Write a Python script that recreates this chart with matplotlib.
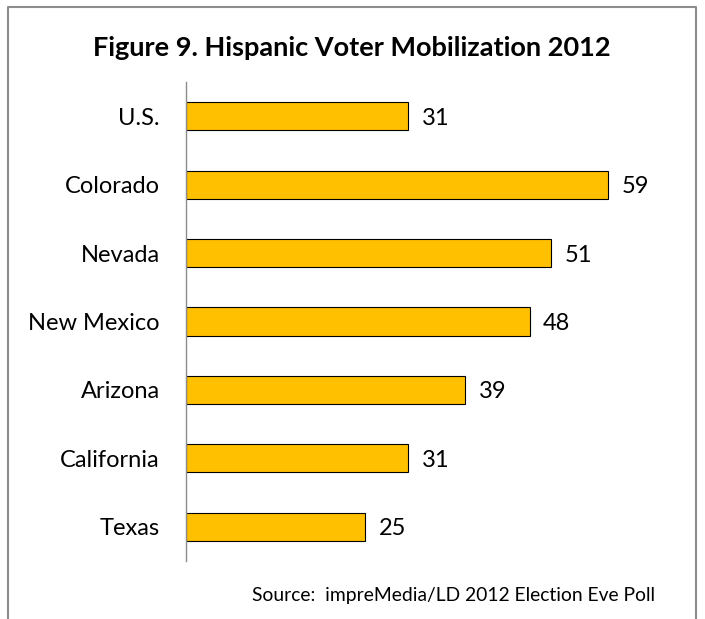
import matplotlib.pyplot as plt

plt.rcParams['font.family'] = ['Lato', 'DejaVu Sans']

states = ['U.S.', 'Colorado', 'Nevada', 'New Mexico', 'Arizona', 'California', 'Texas']
mobilized = [31, 59, 51, 48, 39, 31, 25]

fig = plt.figure(figsize=(7.05, 6.19), dpi=100)
ax = fig.add_axes([186 / 705, 1 - 561 / 619, 501 / 705, 479 / 619])

pos = list(range(len(states)))
ax.barh(pos, mobilized, height=0.41, color='#FFC000', edgecolor='black', linewidth=0.8)
ax.set_ylim(len(states) - 0.5, -0.5)
ax.set_xlim(0, 70)

ax.set_yticks(pos)
ax.set_yticklabels(states, fontsize=17, va='center_baseline')
ax.tick_params(axis='y', length=0, pad=19)
ax.set_xticks([])
for side in ['top', 'right', 'bottom']:
    ax.spines[side].set_visible(False)
ax.spines['left'].set_color('#8c8c8c')
ax.spines['left'].set_linewidth(1.0)

for p, v in zip(pos, mobilized):
    ax.text(v + 1.9, p, str(v), va='center_baseline', ha='left', fontsize=17)

fig.text(352 / 705, 1 - 48 / 619, 'Figure 9. Hispanic Voter Mobilization 2012',
         ha='center', va='center', fontsize=19.5, fontweight='bold')
fig.text(655 / 705, 1 - 595 / 619, 'Source:  impreMedia/LD 2012 Election Eve Poll',
         ha='right', va='center', fontsize=13.9)

# outer frame, open at the bottom
frame_x = [8 / 705, 8 / 705, 696 / 705, 696 / 705]
frame_y = [0, 1 - 7 / 619, 1 - 7 / 619, 0]
fig.add_artist(plt.Line2D(frame_x, frame_y, color='#8c8c8c', linewidth=1.5))

fig.savefig('out.png', dpi=100)
